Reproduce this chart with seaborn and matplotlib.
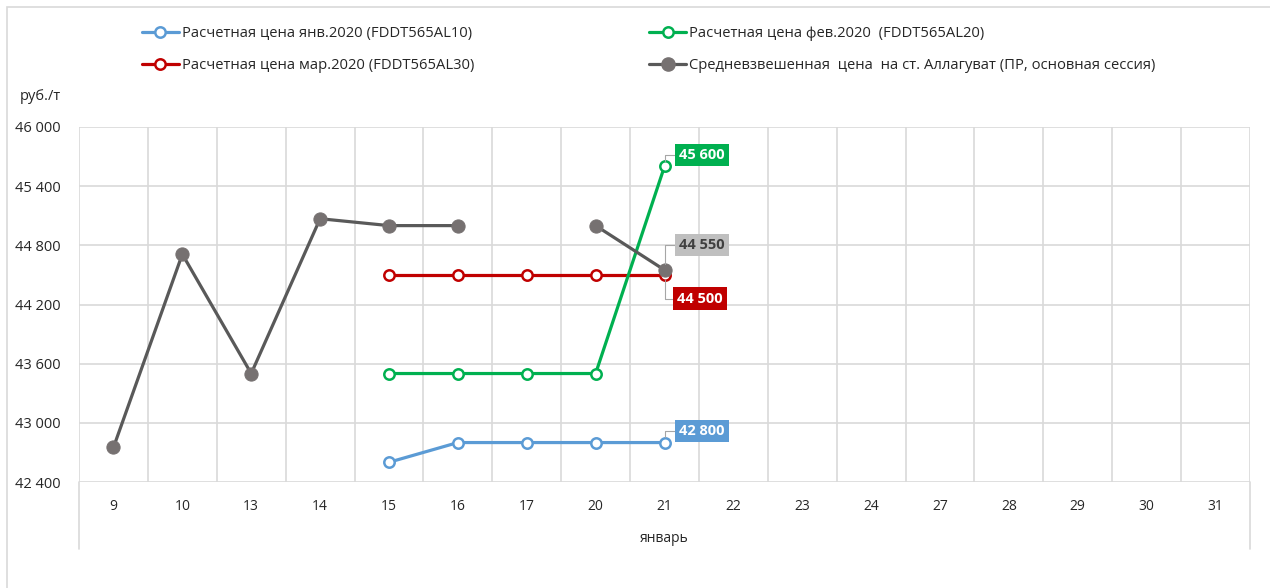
import matplotlib
matplotlib.use("Agg")
import matplotlib.pyplot as plt
import seaborn as sns
import numpy as np
import pandas as pd
from matplotlib.lines import Line2D
from matplotlib.patches import Rectangle
import matplotlib.transforms as mtransforms

# Trading days of January 2020
days = ["9", "10", "13", "14", "15", "16", "17", "20", "21", "22", "23", "24",
        "27", "28", "29", "30", "31"]

# Settlement prices of the futures contracts (rub/t)
jan_days = ["15", "16", "17", "20", "21"]
jan_price = [42600, 42800, 42800, 42800, 42800]

feb_days = ["15", "16", "17", "20", "21"]
feb_price = [43500, 43500, 43500, 43500, 45600]

mar_days = ["15", "16", "17", "20", "21"]
mar_price = [44500, 44500, 44500, 44500, 44500]

# Weighted average spot price at Allaguvat station (gap on the 17th)
spot_days_a = ["9", "10", "13", "14", "15", "16"]
spot_price_a = [42750, 44710, 43500, 45070, 45000, 45000]
spot_days_b = ["20", "21"]
spot_price_b = [45000, 44550]

y_ticks = [42400, 43000, 43600, 44200, 44800, 45400, 46000]

labels = {
    "jan": "Расчетная цена янв.2020 (FDDT565AL10)",
    "feb": "Расчетная цена фев.2020  (FDDT565AL20)",
    "mar": "Расчетная цена мар.2020 (FDDT565AL30)",
    "spot": "Средневзвешенная  цена  на ст. Аллагуват (ПР, основная сессия)",
}

BLUE = "#5B9BD5"
GREEN = "#00B050"
RED = "#C00000"
GRAY_LINE = "#595959"
GRAY_MARK = "#767171"
GRID = "#D9D9D9"
TEXT = "#262626"

sns.set_theme(style="white")
plt.rcParams["font.family"] = ["Open Sans", "DejaVu Sans"]

W, H = 1270, 588
fig = plt.figure(figsize=(W / 100, H / 100), dpi=100)
ax = fig.add_axes([79 / W, 1 - 482 / H, (1250 - 79) / W, (482 - 127) / H])

pos = {d: i for i, d in enumerate(days)}


def frame(d, p):
    return pd.DataFrame({"x": [pos[v] for v in d], "y": p})


lw = 2.3
open_kw = dict(marker="o", markersize=7.5, markerfacecolor="white",
               markeredgewidth=1.8)
spot_kw = dict(marker="o", markersize=9.5, markerfacecolor=GRAY_MARK,
               markeredgecolor=GRAY_MARK)

sns.lineplot(data=frame(jan_days, jan_price), x="x", y="y", ax=ax, color=BLUE,
             markeredgecolor=BLUE, linewidth=lw, zorder=4, **open_kw)
sns.lineplot(data=frame(mar_days, mar_price), x="x", y="y", ax=ax, color=RED,
             markeredgecolor=RED, linewidth=lw, zorder=4, **open_kw)
sns.lineplot(data=frame(feb_days, feb_price), x="x", y="y", ax=ax, color=GREEN,
             markeredgecolor=GREEN, linewidth=lw, zorder=5, **open_kw)
for d, p in [(spot_days_a, spot_price_a), (spot_days_b, spot_price_b)]:
    sns.lineplot(data=frame(d, p), x="x", y="y", ax=ax, color=GRAY_LINE,
                 linewidth=lw, zorder=6, **spot_kw)

# Axes, grid and category separators
ax.set_xlim(-0.5, len(days) - 0.5)
ax.set_ylim(y_ticks[0], y_ticks[-1])
ax.set_yticks(y_ticks)
ax.set_yticklabels([f"{v:,}".replace(",", " ") for v in y_ticks])
ax.set_xticks(range(len(days)))
ax.set_xticklabels(days)
ax.set_xticks(np.arange(0.5, len(days) - 1, 1), minor=True)
ax.set_xlabel("")
ax.set_ylabel("")
ax.grid(False)
for y in y_ticks:
    ax.axhline(y, color=GRID, lw=1.2, zorder=1)
for x in np.arange(-0.5, len(days), 1):
    ax.axvline(x, color=GRID, lw=1.2, zorder=1)
for s in ax.spines.values():
    s.set_visible(False)
ax.tick_params(axis="y", length=0, pad=13, labelsize=10.5, labelcolor=TEXT)
ax.tick_params(axis="x", which="major", length=0, pad=12, labelsize=10,
               labelcolor=TEXT)
ax.tick_params(axis="x", which="minor", length=25, width=1.2, color=GRID,
               direction="out")

# Outer separators of the month group and its label
trans = mtransforms.blended_transform_factory(ax.transData, fig.transFigure)
for x in (-0.5, len(days) - 0.5):
    fig.add_artist(Line2D([x, x], [1 - 482 / H, 1 - 549 / H], transform=trans,
                          color=GRID, lw=1.2))
fig.text((79 + 1250) / 2 / W, 1 - 539 / H, "январь", ha="center", va="center",
         fontsize=10, color=TEXT)

fig.text(20 / W, 1 - 97 / H, "руб./т", ha="left", va="center", fontsize=10.5,
         color=TEXT)

# Value callouts at the last trading day
last = pos["21"]
callouts = [
    (45600, GREEN, "white", (27, 8.5)),
    (44550, "#BFBFBF", "#404040", (27, 18)),
    (44500, RED, "white", (25.5, -17)),
    (42800, BLUE, "white", (27, 8.5)),
]
for val, bg, fg, off in callouts:
    ax.annotate(f"{val:,}".replace(",", " "), xy=(last, val), xytext=off,
                textcoords="offset points", ha="center", va="center",
                fontsize=10.5, fontweight="bold", color=fg, zorder=8,
                bbox=dict(boxstyle="square,pad=0.28", fc=bg, ec="none"),
                arrowprops=dict(arrowstyle="-", color="#A6A6A6", lw=0.8,
                                shrinkA=0, shrinkB=4,
                                connectionstyle="angle,angleA=0,angleB=90,rad=0"))

# Legend in two columns
handles = [
    Line2D([], [], color=BLUE, lw=lw, markeredgecolor=BLUE, **open_kw),
    Line2D([], [], color=RED, lw=lw, markeredgecolor=RED, **open_kw),
    Line2D([], [], color=GREEN, lw=lw, markeredgecolor=GREEN, **open_kw),
    Line2D([], [], color=GRAY_LINE, lw=lw, **spot_kw),
]
names = [labels["jan"], labels["mar"], labels["feb"], labels["spot"]]
fig.legend(handles, names, ncol=2, loc="upper left",
           bbox_to_anchor=(136 / W, 1 - 20 / H), frameon=False, fontsize=10.6,
           handlelength=2.5, handletextpad=0.2, columnspacing=11.9,
           labelspacing=1.18, borderaxespad=0, labelcolor=TEXT)

# Chart border
fig.add_artist(Rectangle((7 / W, -0.05), 1.1, 1 - 7 / H + 0.05,
                         transform=fig.transFigure, fill=False, ec=GRID, lw=1.2))

fig.savefig("out.png", dpi=100)
